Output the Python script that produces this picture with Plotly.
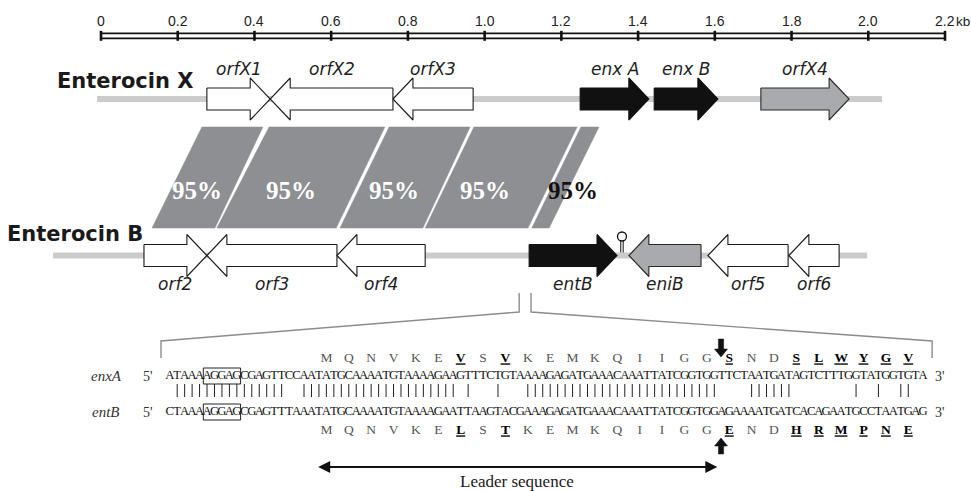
import plotly.graph_objects as go

# ======================= DATA =======================
RULER_TICKS = [0.0, 0.2, 0.4, 0.6, 0.8, 1.0, 1.2, 1.4, 1.6, 1.8, 2.0, 2.2]
RULER_LABELS = ["0", "0.2", "0.4", "0.6", "0.8", "1.0", "1.2", "1.4", "1.6", "1.8", "2.0", "2.2"]
RULER_UNIT = "kb"

X_TITLE = "Enterocin X"
X_BACKBONE = [-0.010, 2.036]
X_GENES = ["orfX1", "orfX2", "orfX3", "enx A", "enx B", "orfX4"]
X_LEFT = [0.276, 0.441, 0.761, 1.249, 1.442, 1.720]
X_RIGHT = [0.441, 0.761, 0.970, 1.428, 1.608, 1.950]
X_STRAND = [1, -1, -1, 1, 1, 1]
X_KIND = ["orf", "orf", "orf", "bacteriocin", "bacteriocin", "immunity"]

B_TITLE = "Enterocin B"
B_BACKBONE = [-0.125, 1.997]
B_GENES = ["orf2", "orf3", "orf4", "entB", "eniB", "orf5", "orf6"]
B_LEFT = [0.112, 0.276, 0.615, 1.116, 1.376, 1.582, 1.793]
B_RIGHT = [0.276, 0.615, 0.845, 1.345, 1.564, 1.791, 1.924]
B_STRAND = [1, -1, -1, 1, -1, -1, -1]
B_KIND = ["orf", "orf", "orf", "bacteriocin", "immunity", "orf", "orf"]
TERMINATOR_KB = 1.358

# homology blocks (kb on X row = top, kb on B row = bottom)
BLOCK_TOP_START = [0.263, 0.438, 0.751, 0.972, 1.251]
BLOCK_TOP_END = [0.422, 0.740, 0.962, 1.241, 1.298]
BLOCK_BOT_START = [0.133, 0.302, 0.623, 0.845, 1.123]
BLOCK_BOT_END = [0.297, 0.613, 0.839, 1.113, 1.168]
BLOCK_IDENTITY = ["95%", "95%", "95%", "95%", "95%"]

# region of entB that is expanded below
ZOOM_KB = [1.090, 1.121]

SEQ_NAMES = ["enxA", "entB"]
ENXA_SEQ = "ATAAAAGGAGCGAGTTCCAATATGCAAAATGTAAAAGAAGTTTCTGTAAAAGAGATGAAACAAATTATCGGTGGTTCTAATGATAGTCTTTGGTATGGTGTA"
ENTB_SEQ = "CTAAAAGGAGCGAGTTTAAATATGCAAAATGTAAAAGAATTAAGTACGAAAGAGATGAAACAAATTATCGGTGGAGAAAATGATCACAGAATGCCTAATGAG"
MATCH = (" " + "|" * 15 + "  " + "|" * 21 + " " + "|" + "   " + "|" + "   " + "|" * 26
         + "    " + "|" * 6 + " " * 8 + "|" + "  " + "|" + "  " + "||" + "  ")
RBS_CHARS = [5, 10]          # boxed AGGAG
START_CHAR = 21              # first base of ATG
ENXA_AA = "MQNVKEVSVKEMKQIIGGSNDSLWYGV"
ENTB_AA = "MQNVKELSTKEMKQIIGGENDHRMPNE"
ENXA_DIFF = [6, 8, 18, 21, 22, 23, 24, 25, 26]
ENTB_DIFF = [6, 8, 18, 21, 22, 23, 24, 25, 26]
CLEAVAGE_AA = 18
LEADER_LABEL = "Leader sequence"

# ======================= LAYOUT / STYLE =======================
W, H = 971, 491
KB0_PX = 101.0
KB_PX = 383.64
SEQ0_PX = 166.0
CHAR_PX = 7.46

XR = [(0 - KB0_PX) / KB_PX, (W - KB0_PX) / KB_PX]
X2R = [(0 - SEQ0_PX) / CHAR_PX - 0.5, (W - SEQ0_PX) / CHAR_PX - 0.5]


def kb_from_char(i):
    px = SEQ0_PX + (i + 0.5) * CHAR_PX
    return (px - KB0_PX) / KB_PX


def px2kb(p):
    return p / KB_PX


def px2ch(p):
    return p / CHAR_PX


Y_RULER_TOP, Y_RULER_BOT = 33.3, 38.3
Y_RULER_LABEL = 21
Y_XROW, Y_BROW = 99.0, 255.5
Y_XLABEL, Y_BLABEL = 69, 284
BODY_H, HEAD_H, HEAD_PX = 11, 21, 20
Y_BLOCK_TOP, Y_BLOCK_BOT = 127, 228
Y_PCT = 190
Y_ZOOM_TOP, Y_ZOOM_MID, Y_ZOOM_CORNER, Y_ZOOM_END = 293, 312, 341, 358
Y_AA_X, Y_SEQ_X, Y_BAR0, Y_BAR1, Y_SEQ_B, Y_AA_B = 359, 376, 384, 397, 412, 431
Y_LEADER, Y_LEADER_TXT = 467, 481

GENE_FILL = {"orf": "#ffffff", "bacteriocin": "#111111", "immunity": "#a9aaad"}
GENE_LINE = {"orf": "#1a1a1a", "bacteriocin": "#111111", "immunity": "#2a2a2a"}
BACKBONE_COL = "#cbcbcb"
BLOCK_COL = "#8e8f93"
PCT_COLORS = ["white", "white", "white", "white", "#111111"]
PCT_SHIFT_PX = [-5, -5, -6, -10, 14]
GRAY_LINE = "#8c8c8c"

fig = go.Figure()


def add_poly(xs, ys, fill, line, width=1.0, xaxis="x"):
    fig.add_trace(go.Scatter(x=xs + [xs[0]], y=ys + [ys[0]], mode="lines", fill="toself",
                             fillcolor=fill, line=dict(color=line, width=width),
                             hoverinfo="skip", showlegend=False, xaxis=xaxis))


# ---- homology blocks ----
for ts, te, bs, be in zip(BLOCK_TOP_START, BLOCK_TOP_END, BLOCK_BOT_START, BLOCK_BOT_END):
    add_poly([ts, te, be, bs], [Y_BLOCK_TOP, Y_BLOCK_TOP, Y_BLOCK_BOT, Y_BLOCK_BOT], BLOCK_COL, BLOCK_COL, 0.5)

tfrac = (Y_PCT - Y_BLOCK_TOP) / (Y_BLOCK_BOT - Y_BLOCK_TOP)
for k, lab in enumerate(BLOCK_IDENTITY):
    ct = (BLOCK_TOP_START[k] + BLOCK_TOP_END[k]) / 2
    cb = (BLOCK_BOT_START[k] + BLOCK_BOT_END[k]) / 2
    cx = ct + tfrac * (cb - ct) + px2kb(PCT_SHIFT_PX[k])
    fig.add_annotation(x=cx, y=Y_PCT, text="<b>%s</b>" % lab, showarrow=False,
                       font=dict(family="Liberation Serif", size=25, color=PCT_COLORS[k]),
                       xanchor="center", yanchor="middle")

# ---- backbones ----
for bb, yc in ((X_BACKBONE, Y_XROW), (B_BACKBONE, Y_BROW)):
    fig.add_trace(go.Scatter(x=bb, y=[yc, yc], mode="lines", line=dict(color=BACKBONE_COL, width=6),
                             hoverinfo="skip", showlegend=False))


# ---- genes ----
def gene_arrow(L, R, strand, yc, kind):
    h = min(px2kb(HEAD_PX), 0.8 * (R - L))
    if strand > 0:
        xs = [L, R - h, R - h, R, R - h, R - h, L]
    else:
        xs = [R, L + h, L + h, L, L + h, L + h, R]
    ys = [yc - BODY_H, yc - BODY_H, yc - HEAD_H, yc, yc + HEAD_H, yc + BODY_H, yc + BODY_H]
    add_poly(xs, ys, GENE_FILL[kind], GENE_LINE[kind], 1.1)


for names, Ls, Rs, Ss, Ks, yc, ylab in ((X_GENES, X_LEFT, X_RIGHT, X_STRAND, X_KIND, Y_XROW, Y_XLABEL),
                                          (B_GENES, B_LEFT, B_RIGHT, B_STRAND, B_KIND, Y_BROW, Y_BLABEL)):
    for n, L, R, s, k in zip(names, Ls, Rs, Ss, Ks):
        gene_arrow(L, R, s, yc, k)
        fig.add_annotation(x=(L + R) / 2, y=ylab, text="<i>%s</i>" % n, showarrow=False,
                           font=dict(family="DejaVu Sans", size=17, color="#1e1e1e"),
                           xanchor="center", yanchor="middle")

# terminator hairpin
for dx in (-1.2, 1.2):
    fig.add_shape(type="line", x0=TERMINATOR_KB + px2kb(dx), x1=TERMINATOR_KB + px2kb(dx),
                  y0=Y_BROW - 3, y1=Y_BROW - 15, line=dict(color="#111", width=1))
fig.add_trace(go.Scatter(x=[TERMINATOR_KB], y=[Y_BROW - 19], mode="markers",
                         marker=dict(symbol="circle", size=9, color="white", line=dict(color="#111", width=1.3)),
                         hoverinfo="skip", showlegend=False))

# titles
fig.add_annotation(x=px2kb(55 - KB0_PX), y=81, text="<b>%s</b>" % X_TITLE, showarrow=False,
                   font=dict(family="DejaVu Sans", size=21, color="#1a1a1a"), xanchor="left", yanchor="middle")
fig.add_annotation(x=px2kb(5 - KB0_PX), y=234, text="<b>%s</b>" % B_TITLE, showarrow=False,
                   font=dict(family="DejaVu Sans", size=21, color="#1a1a1a"), xanchor="left", yanchor="middle")

# ---- ruler ----
for yy in (Y_RULER_TOP, Y_RULER_BOT):
    fig.add_shape(type="line", x0=RULER_TICKS[0], x1=RULER_TICKS[-1], y0=yy, y1=yy,
                  line=dict(color="#111", width=1.8))
for t, lab in zip(RULER_TICKS, RULER_LABELS):
    fig.add_shape(type="line", x0=t, x1=t, y0=Y_RULER_TOP - 2.5, y1=Y_RULER_BOT + 2.5,
                  line=dict(color="#111", width=2.6))
    fig.add_annotation(x=t, y=Y_RULER_LABEL, text=lab, showarrow=False,
                       font=dict(family="Liberation Sans", size=14, color="#222"),
                       xanchor="center", yanchor="middle")
fig.add_annotation(x=RULER_TICKS[-1], y=Y_RULER_LABEL, text=RULER_UNIT, showarrow=False, xshift=8.5,
                   font=dict(family="Liberation Sans", size=13.5, color="#222"),
                   xanchor="left", yanchor="middle")

# ---- zoom bracket ----
cl = kb_from_char(-1.17)
cr = kb_from_char(102.2)
fig.add_trace(go.Scatter(x=[ZOOM_KB[0], ZOOM_KB[0], cl, cl], y=[Y_ZOOM_TOP, Y_ZOOM_MID, Y_ZOOM_CORNER, Y_ZOOM_END],
                         mode="lines", line=dict(color=GRAY_LINE, width=1.4), hoverinfo="skip", showlegend=False))
fig.add_trace(go.Scatter(x=[ZOOM_KB[1], ZOOM_KB[1], cr, cr], y=[Y_ZOOM_TOP, Y_ZOOM_MID, Y_ZOOM_CORNER, Y_ZOOM_END],
                         mode="lines", line=dict(color=GRAY_LINE, width=1.4), hoverinfo="skip", showlegend=False))

# ---- sequences ----
SEQ_FONT = dict(family="Liberation Serif", size=12.7, color="#111111")
for seq, yy in ((ENXA_SEQ, Y_SEQ_X), (ENTB_SEQ, Y_SEQ_B)):
    fig.add_trace(go.Scatter(x=list(range(len(seq))), y=[yy] * len(seq), mode="text", text=list(seq),
                             textposition="middle center", textfont=SEQ_FONT, xaxis="x2",
                             hoverinfo="skip", showlegend=False))
    fig.add_shape(type="rect", xref="x2", yref="y", x0=RBS_CHARS[0] - 0.5, x1=RBS_CHARS[1] - 0.5,
                  y0=yy - 8, y1=yy + 8, line=dict(color="#222", width=1))

# match bars
bx, by = [], []
for i, c in enumerate(MATCH):
    if c == "|":
        bx += [i, i, None]
        by += [Y_BAR0, Y_BAR1, None]
fig.add_trace(go.Scatter(x=bx, y=by, mode="lines", line=dict(color="#222", width=1), xaxis="x2",
                         hoverinfo="skip", showlegend=False))

# amino acids
for aa, diff, yy in ((ENXA_AA, ENXA_DIFF, Y_AA_X), (ENTB_AA, ENTB_DIFF, Y_AA_B)):
    xs = [START_CHAR + 3 * k for k in range(len(aa))]
    txt = [("<b><u>%s</u></b>" % a) if k in diff else a for k, a in enumerate(aa)]
    cols = ["#000" if k in diff else "#555" for k in range(len(aa))]
    fig.add_trace(go.Scatter(x=xs, y=[yy] * len(aa), mode="text", text=txt, textposition="middle center",
                             textfont=dict(family="Liberation Serif", size=13.5, color=cols), xaxis="x2",
                             hoverinfo="skip", showlegend=False))

# row labels
for name, yy in ((SEQ_NAMES[0], Y_SEQ_X), (SEQ_NAMES[1], Y_SEQ_B)):
    fig.add_annotation(x=-8.5, y=yy, xref="x2", text="<i>%s</i>" % name, showarrow=False,
                       font=dict(family="Liberation Serif", size=15, color="#333"), xanchor="center", yanchor="middle")
    fig.add_annotation(x=-2.9, y=yy, xref="x2", text="5'", showarrow=False,
                       font=dict(family="Liberation Serif", size=14, color="#333"), xanchor="center", yanchor="middle")
    fig.add_annotation(x=103.3, y=yy, xref="x2", text="3'", showarrow=False,
                       font=dict(family="Liberation Serif", size=14, color="#333"), xanchor="center", yanchor="middle")

# cleavage arrows
cut_x = START_CHAR + 3 * CLEAVAGE_AA - 1.1


def block_arrow(xc, y_tail, y_tip):
    sw, hw, hl = px2ch(2.6), px2ch(6.5), 8 * (1 if y_tip > y_tail else -1)
    xs = [xc - sw, xc + sw, xc + sw, xc + hw, xc, xc - hw, xc - sw]
    ys = [y_tail, y_tail, y_tip - hl, y_tip - hl, y_tip, y_tip - hl, y_tip - hl]
    add_poly(xs, ys, "#111", "#111", 0.5, xaxis="x2")


block_arrow(cut_x, 339, 357)
block_arrow(cut_x, 454, 438)

# leader sequence arrow
lx0, lx1 = START_CHAR - 1.3, START_CHAR + 3 * CLEAVAGE_AA - 1.6
fig.add_annotation(x=lx1, y=Y_LEADER, ax=lx0, ay=Y_LEADER, xref="x2", yref="y", axref="x2", ayref="y",
                   text="", showarrow=True, arrowhead=2, startarrowhead=2, arrowside="end+start",
                   arrowwidth=2, arrowsize=1.2, startarrowsize=1.2, arrowcolor="#111", standoff=0, startstandoff=0)
fig.add_annotation(x=(lx0 + lx1) / 2, y=Y_LEADER_TXT, xref="x2", text=LEADER_LABEL, showarrow=False,
                   font=dict(family="Liberation Serif", size=17, color="#1a1a1a"), xanchor="center", yanchor="middle")

fig.update_layout(
    width=W, height=H, autosize=False, margin=dict(l=0, r=0, t=0, b=0, pad=0),
    paper_bgcolor="white", plot_bgcolor="white", showlegend=False,
    xaxis=dict(range=XR, visible=False, fixedrange=True),
    xaxis2=dict(range=X2R, visible=False, overlaying="x", anchor="y", fixedrange=True),
    yaxis=dict(range=[H, 0], visible=False, fixedrange=True),
)

fig.write_html("out.html", config={"displayModeBar": False},
               post_script="document.body.style.margin='0';document.body.style.overflow='hidden';")
